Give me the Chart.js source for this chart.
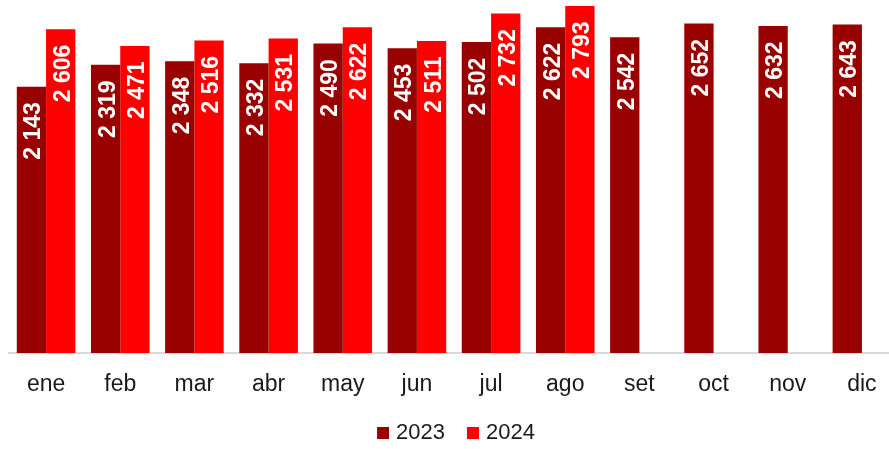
<!DOCTYPE html>
<html lang="es">
<head>
<meta charset="utf-8">
<title>2023 vs 2024 por mes</title>
<script src="https://cdn.jsdelivr.net/npm/chart.js@4/dist/chart.umd.min.js"></script>
<style>
  html, body { margin: 0; padding: 0; background: #ffffff; overflow: hidden; }
  #wrap { width: 900px; height: 449px; }
</style>
</head>
<body>
<div id="wrap"><canvas id="c" width="900" height="449"></canvas></div>
<script>
// Months
const categories = ['ene', 'feb', 'mar', 'abr', 'may', 'jun', 'jul', 'ago', 'set', 'oct', 'nov', 'dic'];
// Monthly values per year (2024 only through August)
const values2023 = [2143, 2319, 2348, 2332, 2490, 2453, 2502, 2622, 2542, 2652, 2632, 2643];
const values2024 = [2606, 2471, 2516, 2531, 2622, 2511, 2732, 2793, null, null, null, null];
const seriesNames = ['2023', '2024'];
const seriesColors = ['#990000', '#ff0000'];

const FONT = '"Liberation Sans", Arial, sans-serif';

// Thousands separated by a space: 2143 -> "2 143"
function fmt(v) {
  return String(v).replace(/\B(?=(\d{3})+(?!\d))/g, ' ');
}

// Vertical value labels inside the top end of each bar
const barLabels = {
  id: 'barLabels',
  afterDatasetsDraw(chart) {
    const ctx = chart.ctx;
    ctx.save();
    ctx.font = 'bold 23px ' + FONT;
    ctx.fillStyle = '#ffffff';
    ctx.textAlign = 'right';
    ctx.textBaseline = 'alphabetic';
    chart.data.datasets.forEach((ds, di) => {
      const meta = chart.getDatasetMeta(di);
      meta.data.forEach((bar, i) => {
        const v = ds.data[i];
        if (v === null || v === undefined) return;
        ctx.save();
        ctx.translate(bar.x, bar.y + 15.5);
        ctx.rotate(-Math.PI / 2);
        ctx.fillText(fmt(v), 0, 9);
        ctx.restore();
      });
    });
    ctx.restore();
  }
};

// Legend below the axis: square swatch followed by the series name
const bottomLegend = {
  id: 'bottomLegend',
  afterDraw(chart) {
    const ctx = chart.ctx;
    const box = 12, gap = 7, itemGap = 22, baseline = 439;
    ctx.save();
    ctx.font = '22px ' + FONT;
    ctx.textBaseline = 'alphabetic';
    ctx.textAlign = 'left';
    const widths = seriesNames.map(n => ctx.measureText(n).width);
    let total = 0;
    widths.forEach((w, i) => { total += box + gap + w + (i < widths.length - 1 ? itemGap : 0); });
    const area = chart.chartArea;
    let x = (area.left + area.right) / 2 + 2 - total / 2;
    seriesNames.forEach((n, i) => {
      ctx.fillStyle = seriesColors[i];
      ctx.fillRect(x, baseline - box, box, box);
      x += box + gap;
      ctx.fillStyle = '#1a1a1a';
      ctx.fillText(n, x, baseline);
      x += widths[i] + itemGap;
    });
    ctx.restore();
  }
};

new Chart(document.getElementById('c'), {
  type: 'bar',
  data: {
    labels: categories,
    datasets: [
      { label: seriesNames[0], data: values2023, backgroundColor: seriesColors[0] },
      { label: seriesNames[1], data: values2024, backgroundColor: seriesColors[1] }
    ]
  },
  options: {
    responsive: false,
    animation: false,
    devicePixelRatio: 1,
    layout: { padding: { left: 9, right: 1, top: 0, bottom: 0 } },
    datasets: { bar: { categoryPercentage: 0.79, barPercentage: 1.0, borderWidth: 0 } },
    plugins: {
      legend: { display: false },
      tooltip: { enabled: false }
    },
    scales: {
      x: {
        offset: true,
        grid: { display: false, drawTicks: false },
        border: { display: true, color: '#d9d9d9', width: 2 },
        ticks: { color: '#1a1a1a', font: { family: FONT, size: 23 }, padding: 18 },
        afterFit(scale) { scale.height = 96; }
      },
      y: {
        display: false,
        min: 0,
        max: 2841
      }
    }
  },
  plugins: [barLabels, bottomLegend]
});
</script>
</body>
</html>
